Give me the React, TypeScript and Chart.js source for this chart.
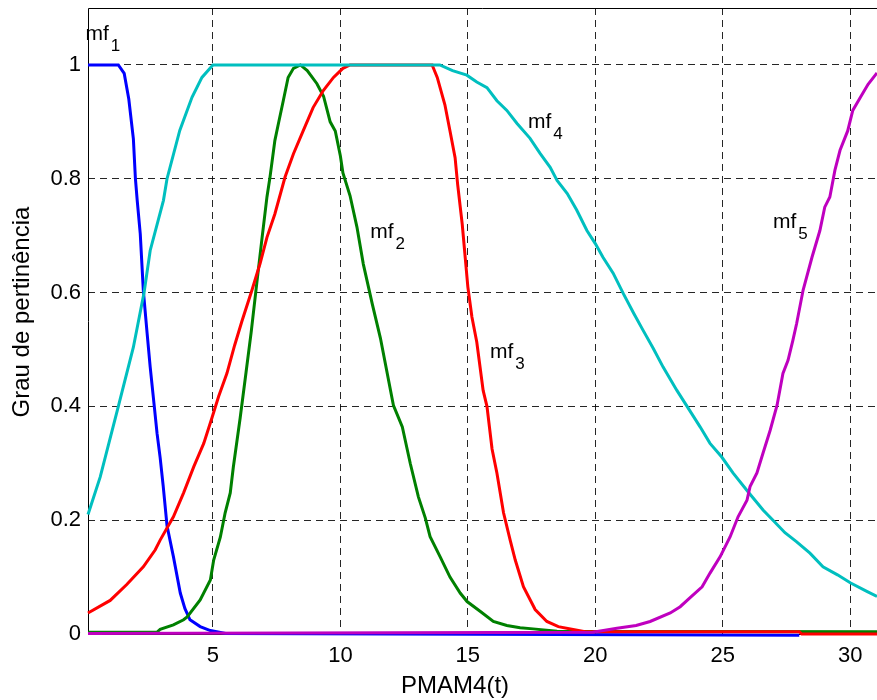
import React, { useEffect, useRef } from 'react';
import { Chart, registerables } from 'chart.js';

Chart.register(...registerables);

// ---- data ----
const mf1X = [0.1, 1.29, 1.52, 1.7, 1.88, 1.96, 2.03, 2.15, 2.27, 2.42, 2.54, 2.7, 2.81, 2.93, 3.05, 3.2, 3.45, 3.72, 3.9, 4.1, 4.5, 4.9, 5.5, 28];
const mf1Y = [1, 1, 0.985, 0.94, 0.87, 0.8, 0.762, 0.703, 0.604, 0.528, 0.469, 0.4, 0.352, 0.31, 0.26, 0.19, 0.136, 0.072, 0.045, 0.025, 0.013, 0.006, 0.001, -0.002];

const mf2X = [0.1, 2.8, 2.93, 3.45, 3.85, 3.99, 4.5, 4.9, 5.03, 5.29, 5.48, 5.68, 5.8, 6.07, 6.3, 6.5, 6.72, 6.93, 7.12, 7.24, 7.43, 7.57, 7.76, 7.95, 8.16, 8.43, 8.7, 9.08, 9.34, 9.6, 9.8, 10.0, 10.1, 10.38, 10.65, 10.9, 11.25, 11.57, 12.08, 12.43, 12.74, 13.06, 13.33, 13.52, 13.91, 14.3, 14.7, 14.97, 15.48, 16.0, 16.53, 17.05, 17.56, 18.5, 31.05];
const mf2Y = [0.003, 0.003, 0.008, 0.016, 0.025, 0.03, 0.06, 0.095, 0.13, 0.17, 0.213, 0.248, 0.293, 0.38, 0.46, 0.53, 0.616, 0.697, 0.768, 0.803, 0.867, 0.897, 0.937, 0.978, 0.994, 1.0, 0.99, 0.967, 0.945, 0.9, 0.884, 0.84, 0.81, 0.77, 0.715, 0.65, 0.58, 0.52, 0.402, 0.364, 0.3, 0.241, 0.204, 0.171, 0.136, 0.1, 0.072, 0.057, 0.04, 0.022, 0.015, 0.011, 0.009, 0.005, 0.004];

const mf3X = [0.1, 0.97, 1.62, 2.27, 2.74, 2.93, 3.45, 3.85, 4.25, 4.64, 4.97, 5.22, 5.55, 5.85, 6.14, 6.53, 6.85, 7.12, 7.43, 7.83, 8.16, 8.54, 8.93, 9.33, 9.73, 10.1, 10.38, 13.6, 13.8, 14.1, 14.3, 14.5, 14.6, 14.78, 14.9, 15.0, 15.16, 15.35, 15.6, 15.75, 15.95, 16.14, 16.4, 16.66, 16.86, 17.18, 17.64, 18.1, 18.55, 19.13, 19.6, 28, 28.1, 31.05];
const mf3Y = [0.037, 0.059, 0.087, 0.118, 0.148, 0.165, 0.206, 0.248, 0.294, 0.335, 0.381, 0.417, 0.458, 0.507, 0.55, 0.604, 0.651, 0.697, 0.738, 0.803, 0.844, 0.884, 0.925, 0.955, 0.978, 0.994, 1.0, 1.0, 0.978, 0.93, 0.884, 0.837, 0.79, 0.72, 0.66, 0.61, 0.557, 0.513, 0.428, 0.4, 0.325, 0.283, 0.213, 0.165, 0.13, 0.083, 0.043, 0.022, 0.013, 0.008, 0.004, 0.004, 0.0, 0.0];

const mf4X = [0.1, 0.58, 1.29, 1.88, 2.3, 2.54, 3.06, 3.2, 3.7, 4.18, 4.57, 5.0, 13.9, 14.4, 14.96, 15.35, 15.75, 16.14, 16.53, 16.93, 17.44, 17.84, 18.23, 18.5, 18.9, 19.27, 19.67, 20.0, 20.3, 20.7, 21.1, 21.5, 21.87, 22.27, 22.66, 23.2, 23.6, 24.11, 24.5, 24.96, 25.4, 25.99, 26.58, 26.97, 27.44, 27.9, 28.42, 28.93, 29.5, 30.0, 30.65, 31.05];
const mf4Y = [0.21, 0.276, 0.4, 0.504, 0.6, 0.674, 0.762, 0.8, 0.885, 0.943, 0.978, 1.0, 1.0, 0.99, 0.982, 0.97, 0.96, 0.937, 0.92, 0.897, 0.871, 0.844, 0.82, 0.797, 0.774, 0.745, 0.709, 0.686, 0.662, 0.634, 0.598, 0.564, 0.534, 0.502, 0.469, 0.428, 0.4, 0.364, 0.335, 0.311, 0.283, 0.25, 0.218, 0.2, 0.178, 0.162, 0.142, 0.118, 0.104, 0.09, 0.075, 0.066];

const mf5X = [0.1, 19.9, 20.85, 21.6, 22.15, 22.94, 23.33, 23.72, 24.19, 24.5, 24.9, 25.29, 25.6, 25.95, 26.07, 26.34, 26.58, 26.86, 27.13, 27.36, 27.56, 27.75, 27.9, 28.15, 28.5, 28.81, 29.0, 29.2, 29.4, 29.6, 29.9, 30.1, 30.4, 30.7, 31.05];
const mf5Y = [0.001, 0.003, 0.01, 0.015, 0.022, 0.037, 0.048, 0.064, 0.083, 0.107, 0.136, 0.171, 0.206, 0.235, 0.259, 0.283, 0.318, 0.358, 0.402, 0.458, 0.481, 0.516, 0.546, 0.604, 0.662, 0.709, 0.75, 0.768, 0.815, 0.85, 0.884, 0.92, 0.943, 0.966, 0.986];

const xTickValues = [5, 10, 15, 20, 25, 30];
const yTickValues = [0, 0.2, 0.4, 0.6, 0.8, 1];

const labelMain = ['mf', 'mf', 'mf', 'mf', 'mf'];
const labelSub = ['1', '2', '3', '4', '5'];
const labelX = [0.0, 11.17, 15.87, 17.36, 26.97];
const labelY = [1.043, 0.695, 0.485, 0.89, 0.713];

const xTitle = 'PMAM4(t)';
const yTitle = 'Grau de pertinência';

const FONT = '"Liberation Sans", Arial, Helvetica, sans-serif';

function pts(xs: number[], ys: number[]) {
  return xs.map((x, i) => ({ x, y: ys[i] }));
}

export default function App() {
  const ref = useRef<HTMLCanvasElement | null>(null);

  useEffect(() => {
    document.body.style.margin = '0';
    const canvas = ref.current;
    if (!canvas) return;

    const overlay = {
      id: 'overlay',
      beforeDatasetsDraw(chart: any) {
        const { ctx, chartArea } = chart;
        ctx.save();
        ctx.strokeStyle = '#000';
        ctx.lineWidth = 1;
        ctx.beginPath();
        const l = Math.round(chartArea.left) + 0.5;
        const t = Math.round(chartArea.top) + 0.5;
        const b = Math.round(chartArea.bottom) + 0.5;
        ctx.moveTo(chart.width, t);
        ctx.lineTo(l, t);
        ctx.lineTo(l, b);
        ctx.lineTo(chart.width, b);
        ctx.stroke();
        ctx.restore();
      },
      afterDatasetsDraw(chart: any) {
        const { ctx } = chart;
        const xs = chart.scales.x;
        const ys = chart.scales.y;
        ctx.save();
        ctx.fillStyle = '#000';
        ctx.textBaseline = 'alphabetic';
        ctx.textAlign = 'left';
        for (let i = 0; i < labelMain.length; i++) {
          const px = xs.getPixelForValue(labelX[i]);
          const py = ys.getPixelForValue(labelY[i]);
          ctx.font = `21px ${FONT}`;
          ctx.fillText(labelMain[i], px, py);
          const w = ctx.measureText(labelMain[i]).width;
          ctx.font = `17px ${FONT}`;
          ctx.fillText(labelSub[i], px + w + 2, py + 11);
        }
        // axis titles
        ctx.font = `24px ${FONT}`;
        ctx.textAlign = 'center';
        ctx.textBaseline = 'middle';
        ctx.fillText(xTitle, xs.getPixelForValue(14.5), 686);
        ctx.save();
        ctx.translate(22, 312);
        ctx.rotate(-Math.PI / 2);
        ctx.fillText(yTitle, 0, 0);
        ctx.restore();
        ctx.restore();
      },
    };

    const mk = (label: string, xs: number[], ys: number[], color: string, order: number) => ({
      label,
      data: pts(xs, ys),
      borderColor: color,
      backgroundColor: color,
      borderWidth: 3,
      pointRadius: 0,
      fill: false,
      tension: 0,
      clip: 3,
      order,
    });

    const chart = new Chart(canvas, {
      type: 'line',
      data: {
        datasets: [
          mk('mf1', mf1X, mf1Y, '#0000ff', 5),
          mk('mf2', mf2X, mf2Y, '#008000', 4),
          mk('mf3', mf3X, mf3Y, '#ff0000', 3),
          mk('mf4', mf4X, mf4Y, '#00bfbf', 2),
          mk('mf5', mf5X, mf5Y, '#bf00bf', 1),
        ],
      },
      options: {
        animation: false,
        responsive: false,
        events: [],
        layout: { padding: { top: 8, right: 0, left: 0, bottom: 0 } },
        plugins: { legend: { display: false }, tooltip: { enabled: false } },
        scales: {
          x: {
            type: 'linear',
            min: 0.1,
            max: 31.05,
            afterBuildTicks: (s: any) => {
              s.ticks = xTickValues.map((v) => ({ value: v }));
            },
            afterFit: (s: any) => {
              s.height = 66;
              s.paddingLeft = 0;
              s.paddingRight = 0;
            },
            grid: { color: 'rgba(0,0,0,0.85)', lineWidth: 1, drawTicks: false },
            border: { display: false, dash: [7, 5] },
            ticks: { color: '#000', font: { family: FONT, size: 22 }, padding: 9, maxRotation: 0, autoSkip: false },
          },
          y: {
            type: 'linear',
            min: 0,
            max: 1.1,
            afterBuildTicks: (s: any) => {
              s.ticks = yTickValues.map((v) => ({ value: v }));
            },
            afterFit: (s: any) => {
              s.width = 88;
              s.paddingTop = 0;
              s.paddingBottom = 0;
            },
            grid: { color: 'rgba(0,0,0,0.85)', lineWidth: 1, drawTicks: false },
            border: { display: false, dash: [7, 5] },
            ticks: {
              color: '#000',
              font: { family: FONT, size: 22 },
              padding: 7,
              autoSkip: false,
              callback: (v: any) => String(Math.round(Number(v) * 10) / 10),
            },
          },
        },
      },
      plugins: [overlay],
    } as any);

    return () => chart.destroy();
  }, []);

  return (
    <div style={{ width: 877, height: 700 }}>
      <canvas ref={ref} width={877} height={700} style={{ display: 'block', width: 877, height: 700 }} />
    </div>
  );
}
